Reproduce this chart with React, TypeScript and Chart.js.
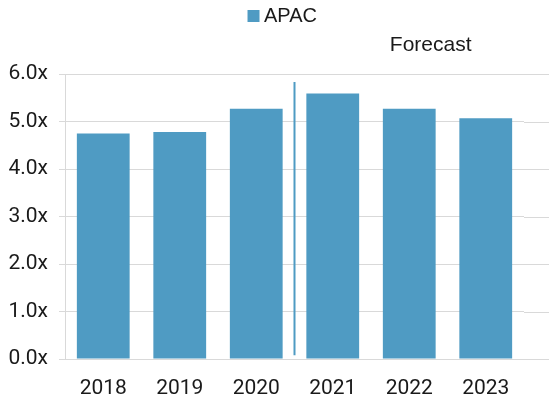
import React, { useEffect, useRef } from "react";
import { Chart, registerables } from "chart.js";

Chart.register(...registerables);

const categories = ["2018", "2019", "2020", "2021", "2022", "2023"];
const apacValues = [4.75, 4.78, 5.27, 5.59, 5.27, 5.07];
const yTicks = [0, 1, 2, 3, 4, 5, 6];
const seriesName = "APAC";
const forecastLabel = "Forecast";
const dividerAt = 2.5; // between 2020 and 2021
const dividerRange = [0.08, 5.83];
const forecastLabelAt = 4.28;

const BLUE = "#4f9bc3";
const GRID = "#d9d9d9";
const TEXT = "#1a1a1a";

export default function App() {
  const ref = useRef<HTMLCanvasElement | null>(null);

  useEffect(() => {
    document.body.style.margin = "0";
    const canvas = ref.current;
    if (!canvas) return;

    const legendSpacer = {
      id: "legendSpacer",
      beforeInit(chart: any) {
        if (!chart.legend) return;
        const origFit = chart.legend.fit;
        chart.legend.fit = function () {
          origFit.bind(chart.legend)();
          this.height += 38;
        };
      },
      afterLayout(chart: any) {
        if (chart.legend) {
          chart.legend.left += 46;
        }
      },
    };

    const extras = {
      id: "extras",
      beforeDatasetsDraw(chart: any) {
        const { ctx, chartArea, scales } = chart;
        const y = scales.y;
        ctx.save();
        ctx.strokeStyle = GRID;
        ctx.lineWidth = 1;
        yTicks.forEach((v) => {
          const py = Math.round(y.getPixelForValue(v)) + 0.5;
          ctx.beginPath();
          ctx.moveTo(chartArea.right, py);
          ctx.lineTo(chart.width, py);
          ctx.stroke();
        });
        ctx.restore();
      },
      afterDatasetsDraw(chart: any) {
        const { ctx, chartArea, scales } = chart;
        const x = scales.x;
        const y = scales.y;
        ctx.save();
        const px = x.getPixelForValue(dividerAt);
        ctx.strokeStyle = BLUE;
        ctx.lineWidth = 2;
        ctx.beginPath();
        ctx.moveTo(px, y.getPixelForValue(dividerRange[0]));
        ctx.lineTo(px, y.getPixelForValue(dividerRange[1]));
        ctx.stroke();

        ctx.fillStyle = TEXT;
        ctx.font = "21px 'Liberation Sans', Arial, sans-serif";
        ctx.textAlign = "center";
        ctx.textBaseline = "middle";
        ctx.fillText(forecastLabel, x.getPixelForValue(forecastLabelAt), chartArea.top - 29);
        ctx.restore();
      },
    };

    const chart = new Chart(canvas, {
      type: "bar",
      data: {
        labels: categories,
        datasets: [
          {
            label: seriesName,
            data: apacValues,
            backgroundColor: BLUE,
            borderWidth: 0,
            barPercentage: 0.69,
            categoryPercentage: 1,
          },
        ],
      },
      options: {
        animation: false,
        responsive: false,
        maintainAspectRatio: false,
        layout: { padding: { left: 0, right: 25, top: 2, bottom: 0 } },
        plugins: {
          legend: {
            display: true,
            position: "top",
            labels: {
              usePointStyle: true,
              pointStyle: "rect",
              boxWidth: 1,
              boxHeight: 12,
              padding: 4,
              color: TEXT,
              font: { family: "'Liberation Sans', Arial, sans-serif", size: 20 },
            },
          },
          tooltip: { enabled: false },
        },
        scales: {
          x: {
            grid: { display: false, drawTicks: false },
            border: { display: false },
            afterFit(scale: any) {
              scale.height = 43;
            },
            ticks: {
              color: TEXT,
              padding: 17,
              font: { family: "Roboto, sans-serif", size: 21 },
            },
          },
          y: {
            min: 0,
            max: 6,
            afterFit(scale: any) {
              scale.width = 65;
            },
            afterBuildTicks(scale: any) {
              scale.ticks = yTicks.map((v) => ({ value: v }));
            },
            grid: { color: GRID, lineWidth: 1, tickLength: 6 },
            border: { display: true, color: GRID },
            ticks: {
              color: TEXT,
              padding: 11,
              font: { family: "Roboto, sans-serif", size: 21 },
              callback: (v: any) => Number(v).toFixed(1) + "x",
            },
          },
        },
      },
      plugins: [legendSpacer, extras],
    });

    return () => chart.destroy();
  }, []);

  return (
    <div style={{ width: 549, height: 402 }}>
      <canvas ref={ref} width={549} height={402} style={{ width: 549, height: 402, display: "block" }} />
    </div>
  );
}
